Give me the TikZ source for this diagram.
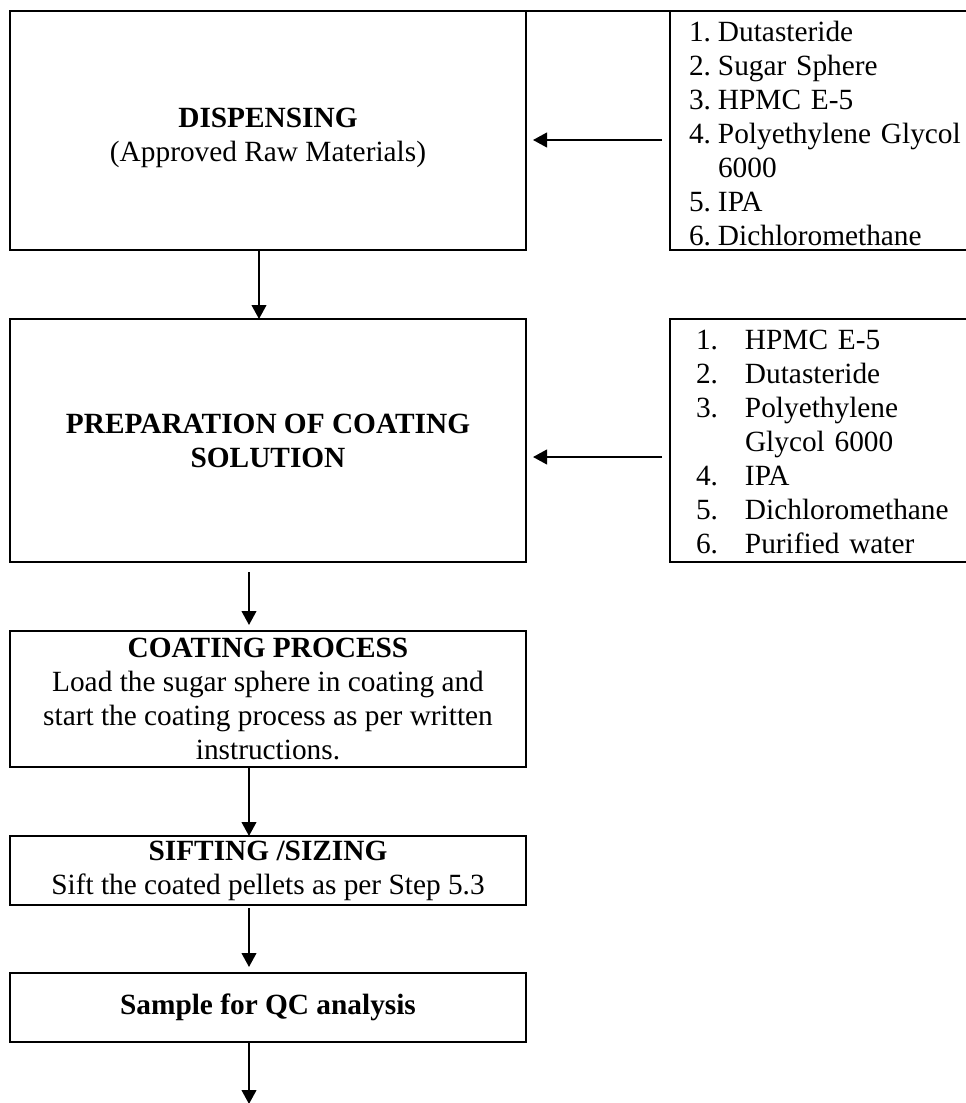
\documentclass[tikz,border=0pt]{standalone}
\usepackage{fontspec}
\setmainfont{Liberation Serif}
\usetikzlibrary{arrows.meta}
\begin{document}
\begin{tikzpicture}[x=0.75pt,y=-0.75pt,
  every node/.style={font=\fontsize{22}{25.5}\selectfont},
  box/.style={draw, line width=1.5pt, minimum width=387pt, inner sep=0pt, outer sep=0pt, align=center},
  listbox/.style={draw, line width=1.5pt, minimum width=247.5pt, anchor=north west, inner ysep=0pt, outer sep=0pt, align=left},
  arr/.style={line width=1.5pt, -{Triangle[length=10.5pt,width=11pt]}},
  edge line/.style={line width=1.5pt}]
\clip (0,0) rectangle (966,1103);
% process boxes
\node[box, minimum height=179.25pt] (disp) at (268,130.5) {\rule{0pt}{25pt}\textbf{DISPENSING}\\(Approved Raw Materials)};
\node[box, minimum height=182.25pt] (prep) at (268,440.5) {\textbf{PREPARATION OF COATING}\\\textbf{SOLUTION}};
\node[box, minimum height=102pt] (coat) at (268,699) {\textbf{COATING PROCESS}\\Load the sugar sphere in coating and\\start the coating process as per written\\instructions.};
\node[box, minimum height=51.75pt] (sift) at (268,870.5) {\textbf{SIFTING /SIZING}\\Sift the coated pellets as per Step 5.3};
\node[box, minimum height=51.75pt] (qc) at (268,1007.5) {\textbf{Sample for QC analysis}};
% material lists
\node[listbox, minimum height=179.25pt, inner xsep=14.25pt, text width=219pt] (mat1) at (670,11)
 {\raisebox{-4.5pt}[\height][\depth]{\begin{tabular}{@{}p{21.75pt}@{}l@{}}1.&Dutasteride\\2.&Sugar Sphere\\3.&HPMC E-5\\4.&Polyethylene Glycol\\&6000\\5.&IPA\\6.&Dichloromethane\end{tabular}}};
\node[listbox, minimum height=182.25pt, inner xsep=19.5pt, text width=208.5pt] (mat2) at (670,319)
 {\raisebox{-3pt}[\height][\depth]{\begin{tabular}{@{}p{36.75pt}@{}l@{}}1.&HPMC E-5\\2.&Dutasteride\\3.&Polyethylene\\&Glycol 6000\\4.&IPA\\5.&Dichloromethane\\6.&Purified water\end{tabular}}};
% top rule joining the two upper boxes
\draw[edge line] (disp.north east) -- (mat1.north west);
% helper coordinates
\coordinate (ya) at (0,140);
\coordinate (yb) at (0,457);
\coordinate (xa) at (259,0);
\coordinate (xb) at (249,0);
\coordinate (end) at (249,1104);
% side arrows
\draw[arr, shorten <=6pt, shorten >=5.25pt] (mat1.west |- ya) -- (disp.east |- ya);
\draw[arr, shorten <=6pt, shorten >=5.25pt] (mat2.west |- yb) -- (prep.east |- yb);
% vertical arrows
\draw[arr] (disp.south -| xa) -- (prep.north -| xa);
\draw[arr, shorten <=7.5pt, shorten >=4.5pt] (prep.south -| xb) -- (coat.north -| xb);
\draw[arr] (coat.south -| xb) -- (sift.north -| xb);
\draw[arr, shorten <=2.25pt, shorten >=4.5pt] (sift.south -| xb) -- (qc.north -| xb);
\draw[arr] (qc.south -| xb) -- (end);
\end{tikzpicture}
\end{document}
